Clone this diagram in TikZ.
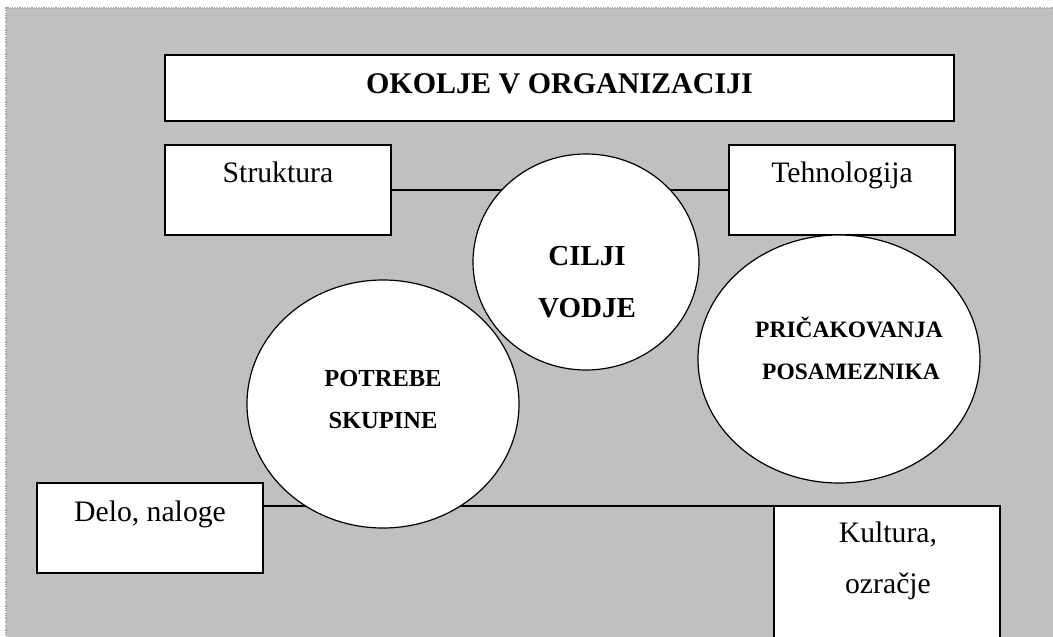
\documentclass[tikz,border=0pt]{standalone}
\usepackage{fontspec}
\setmainfont{Liberation Serif}
\usetikzlibrary{shapes.geometric}
\definecolor{bg}{RGB}{192,192,192}
\definecolor{bordergray}{RGB}{165,165,165}
\newcommand\boxfont{\fontsize{29.7pt}{36pt}\selectfont}
\tikzset{
  plainbox/.style={draw=black, fill=white, line width=1.3pt, rectangle, inner sep=0pt, outer sep=0pt,
    minimum width=226pt, minimum height=90pt, font=\boxfont},
  oval/.style={draw=black, fill=white, line width=1.2pt, ellipse, inner sep=0pt, outer sep=0pt},
  conn/.style={draw=black, line width=1.2pt},
  ovaltext/.style={anchor=base, inner sep=0pt, font=\bfseries},
}
\begin{document}
\begin{tikzpicture}[x=1pt,y=-1pt]
\useasboundingbox (0,0) rectangle (1053,637);
\clip (0,0) rectangle (1053,637);
% background
\fill[bg] (6,8) rectangle (1060,645);
\draw[bordergray, line width=1.6pt, dash pattern=on 1.2pt off 1.2pt] (6,645) -- (6,8) -- (1060,8);

% title
\node[plainbox, line width=1.8pt, minimum width=789pt, minimum height=66pt,
  text height=38pt, text depth=28pt, font=\fontsize{30pt}{36pt}\selectfont\bfseries]
  (title) at (559.5,88) {OKOLJE V ORGANIZACIJI};

% boxes
\node[plainbox, text height=37pt, text depth=53pt] (struktura) at (278,190) {Struktura};
\node[plainbox, text height=37pt, text depth=53pt] (tehnologija) at (842,190) {Tehnologija};
\node[plainbox, text height=38pt, text depth=52pt] (delo) at (150,528) {Delo, naloge};
\node[plainbox, minimum height=150pt] (kultura) at (887,581) {};
\node[anchor=base, inner sep=0pt, font=\boxfont] (kultura1) at (888,542) {Kultura,};
\node[anchor=base, inner sep=0pt, font=\boxfont] (kultura2) at (888,593) {ozračje};

% connectors
\draw[conn] (struktura.east) -- (tehnologija.west);
\draw[conn] (delo.east |- kultura.north west) -- (kultura.north west);

% ovals
\node[oval, minimum width=226pt, minimum height=216pt] (cilji) at (586,262) {};
\node[oval, minimum width=282pt, minimum height=248pt] (pricakovanja) at (839,359) {};
\node[oval, minimum width=272pt, minimum height=248pt] (potrebe) at (383,404) {};

\node[ovaltext, font=\fontsize{29pt}{34pt}\selectfont\bfseries] (ciljit) at (587,265) {CILJI};
\node[ovaltext, font=\fontsize{29pt}{34pt}\selectfont\bfseries] (vodjet) at (587,317) {VODJE};

\node[ovaltext, font=\fontsize{24.5pt}{30pt}\selectfont\bfseries] (potrebet) at (383,386) {POTREBE};
\node[ovaltext, font=\fontsize{24.5pt}{30pt}\selectfont\bfseries] (skupinet) at (383,428) {SKUPINE};

\begin{scope}
\clip (700,300) rectangle (949,400);
\node[ovaltext, anchor=base west, font=\fontsize{23.5pt}{30pt}\selectfont\bfseries] (pricakt) at (755,337) {PRIČAKOVANJA};
\node[ovaltext, anchor=base west, font=\fontsize{23.5pt}{30pt}\selectfont\bfseries] (posamt) at (762,379) {POSAMEZNIKA};
\end{scope}
\end{tikzpicture}
\end{document}
